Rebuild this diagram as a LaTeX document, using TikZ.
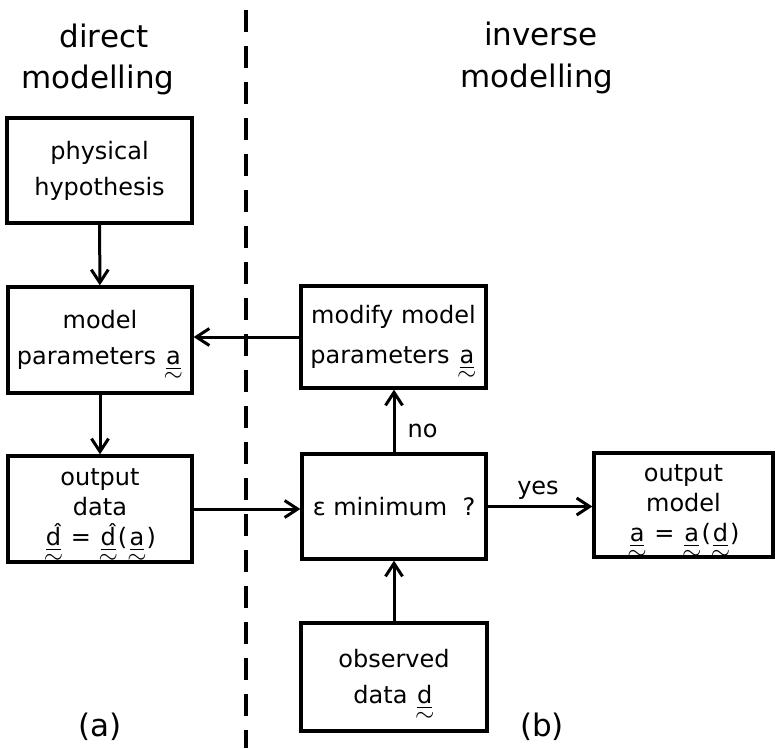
\documentclass[tikz,border=0pt]{standalone}
\usepackage{amsmath}
\usepackage{fontspec}
\setmainfont{DejaVu Sans}
\usetikzlibrary{arrows.meta}
\newcommand\uvec[1]{\ensuremath{\smash[b]{\underset{\smash{\raisebox{3pt}{$\textstyle\sim$}}}{\underline{\text{#1}}}}}}
\tikzset{
  box/.style={draw, line width=3.3pt, rectangle, align=center, inner sep=0pt},
  twoline/.style={font=\fontsize{24}{36}\selectfont},
  threeline/.style={font=\fontsize{24}{30}\selectfont},
  arr/.style={line width=3pt, -{Straight Barb[length=13pt,width=17pt,line width=3pt]}},
  title/.style={anchor=base, font=\fontsize{31}{40}\selectfont},
  lbl/.style={font=\fontsize{24}{28}\selectfont}
}
\begin{document}
\begin{tikzpicture}[x=1pt,y=-1pt]
\useasboundingbox (0,0) rectangle (776,748);
\draw[line width=4pt, dash pattern=on 22pt off 14pt, dash phase=-10pt] (246,0) -- (246,748);

\node[title] (t1a) at (104,47) {direct};
\node[title] (t1b) at (98,88) {modelling};
\node[title] (t2a) at (541,45) {inverse};
\node[title] (t2b) at (537,87) {modelling};

\node[box, twoline, minimum width=185pt, minimum height=105pt] (phys) at (99.5,170.5) {physical\\hypothesis};
\node[box, twoline, minimum width=184pt, minimum height=106pt] (param) at (100,340) {model\\parameters \uvec{a}};
\node[box, threeline, minimum width=184pt, minimum height=106pt] (outd) at (100,509) {output\\data\\\uvec{\^{d}} = \uvec{\^{d}}(\uvec{a})};
\node[box, twoline, font=\fontsize{24}{40}\selectfont, minimum width=185pt, minimum height=102pt] (modify) at (393.5,337) {modify model\\parameters \uvec{a}};
\node[box, twoline, minimum width=184pt, minimum height=105pt] (eps) at (394,506.5) {ε minimum \ ?};
\node[box, twoline, minimum width=186pt, minimum height=108pt] (obs) at (394,677) {observed\\data \uvec{d}};
\node[box, threeline, minimum width=179pt, minimum height=104pt] (outm) at (683.5,505) {output\\model\\\uvec{a} = \uvec{a}(\uvec{d})};

\draw[arr] (phys) -- (param);
\draw[arr] (param) -- (outd);
\draw[arr] (outd.east) -- (outd.east -| eps.west);
\draw[arr] (modify.west) -- (modify.west -| param.east);
\draw[arr] (eps.north) -- (eps.north |- modify.south);
\draw[arr] (obs.north) -- (obs.north |- eps.south);
\draw[arr] (eps.east) -- (eps.east -| outm.west);

\node[lbl, anchor=base west] (no) at (404,437) {no};
\node[lbl, anchor=base] (yes) at (538,494) {yes};
\node[title] (la) at (100,736) {(a)};
\node[title] (lb) at (542,736) {(b)};
\end{tikzpicture}
\end{document}
